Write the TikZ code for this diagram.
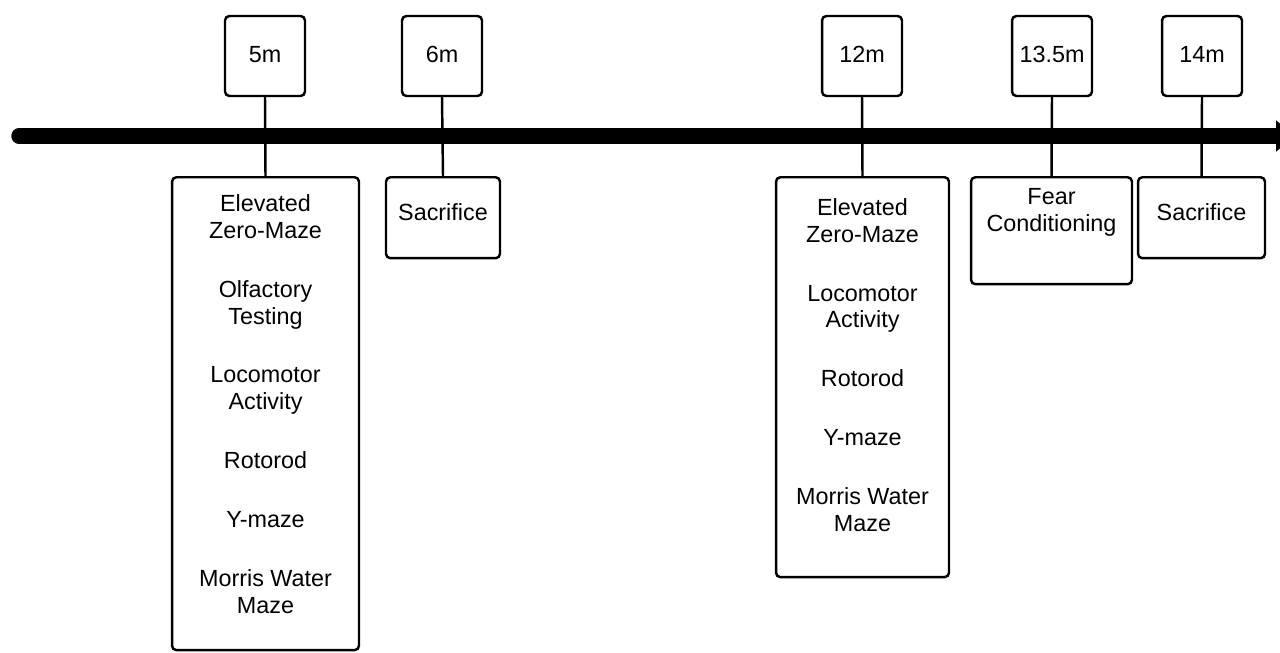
\documentclass[tikz,border=0pt]{standalone}
\usepackage{fontspec}
\setmainfont{Liberation Sans}
\usetikzlibrary{arrows.meta}

\begin{document}
\begin{tikzpicture}[x=0.02cm, y=-0.02cm,
  box/.style={shape=rectangle, draw=black, line width=1.4pt, rounded corners=2.5pt, inner sep=0pt},
  link/.style={draw=black, line width=1.4pt},
  txt/.style={align=center, inner sep=0pt, font=\fontsize{13.3}{15.3}\selectfont}]
\useasboundingbox (0,0) rectangle (1280,652);
\clip (0,0) rectangle (1280,652);

% time axis
\draw[line width=8.8pt, line cap=round, -{Triangle[length=0.4cm, width=0.6cm]}] (19,136) -- (1296,136);

% months
\node[box, txt, minimum width=1.6cm, minimum height=1.6cm, text depth=0.06cm](T5) at (265,56) {5m};
\node[box, txt, minimum width=1.6cm, minimum height=1.6cm, text depth=0.06cm](T6) at (442,56) {6m};
\node[box, txt, minimum width=1.6cm, minimum height=1.6cm, text depth=0.06cm](T12) at (862,56) {12m};
\node[box, txt, minimum width=1.6cm, minimum height=1.6cm, text depth=0.06cm](T135) at (1052,56) {13.5m};
\node[box, txt, minimum width=1.6cm, minimum height=1.6cm, text depth=0.06cm](T14) at (1202,56) {14m};

% tasks
\node[box, anchor=north, minimum width=3.74cm, minimum height=9.46cm](B5) at (265.5,176) {};
\node[box, anchor=north, minimum width=2.28cm, minimum height=1.62cm](B6) at (443,176) {};
\node[box, anchor=north, minimum width=3.46cm, minimum height=8cm](B12) at (862.5,176) {};
\node[box, anchor=north, minimum width=3.22cm, minimum height=2.14cm](B135) at (1051.5,176) {};
\node[box, anchor=north, minimum width=2.54cm, minimum height=1.62cm](B14) at (1201.5,176) {};

\node[txt](L5) at (265.5,404) {Elevated\\Zero-Maze\\[0.64cm]
  Olfactory\\Testing\\[0.64cm]
  Locomotor\\Activity\\[0.64cm]
  Rotorod\\[0.64cm]
  Y-maze\\[0.64cm]
  Morris Water\\Maze};
\node[txt](L6) at (443,212) {Sacrifice};
\node[txt](L12) at (862.5,365) {Elevated\\Zero-Maze\\[0.64cm]
  Locomotor\\Activity\\[0.64cm]
  Rotorod\\[0.64cm]
  Y-maze\\[0.64cm]
  Morris Water\\Maze};
\node[txt](L135) at (1051.5,212) {Fear\\Conditioning};
\node[txt](L14) at (1201.5,212) {Sacrifice};

\draw[link] (T5.south) -- (B5.north);
\draw[link] (T6.south) -- (B6.north);
\draw[link] (T12.south) -- (B12.north);
\draw[link] (T135.south) -- (B135.north);
\draw[link] (T14.south) -- (B14.north);
\end{tikzpicture}
\end{document}
